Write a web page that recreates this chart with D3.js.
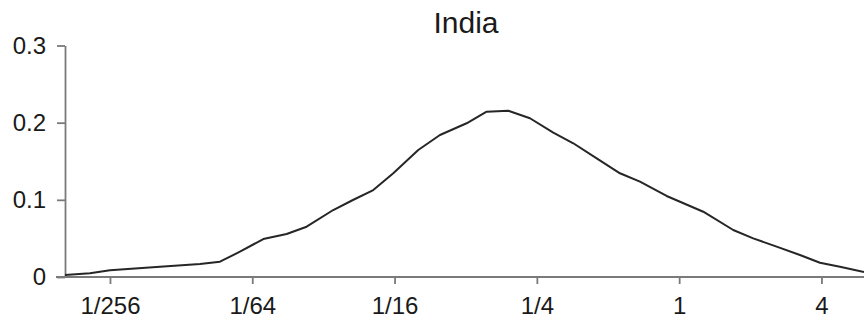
<!DOCTYPE html>
<html>
<head>
<meta charset="utf-8">
<script src="https://cdn.jsdelivr.net/npm/d3@7/dist/d3.min.js"></script>
<style>
  html, body { margin: 0; padding: 0; background: #fff; }
  svg { display: block; }
  text { font-family: "Liberation Sans", Arial, Helvetica, sans-serif; fill: #1a1a1a; }
</style>
</head>
<body>
<svg id="chart" width="864" height="323"></svg>
<script>
// Distribution over the ratio (log2 of ratio) for India
const title = "India";
const logRatio = [-8.632, -8.281, -8.0, -7.297, -6.735, -6.454, -6.173, -5.845, -5.517, -5.236,
  -4.862, -4.585, -4.299, -4.018, -3.667, -3.362, -2.987, -2.706, -2.402, -2.097,
  -1.769, -1.488, -1.159, -0.832, -0.551, -0.176, 0.339, 0.760, 1.041, 1.370,
  1.698, 1.979, 2.260, 2.598];
const density = [0.0026, 0.0048, 0.0087, 0.0133, 0.0168, 0.0198, 0.0328, 0.0492, 0.0557, 0.0652,
  0.0868, 0.0998, 0.1127, 0.1344, 0.1646, 0.1840, 0.1992, 0.2142, 0.2155, 0.2057,
  0.1870, 0.1733, 0.1538, 0.1344, 0.1235, 0.1050, 0.0846, 0.0609, 0.0501, 0.0393,
  0.0285, 0.0185, 0.0133, 0.0065];
const xTicks = [1/256, 1/64, 1/16, 1/4, 1, 4];
const xTickLabels = ["1/256", "1/64", "1/16", "1/4", "1", "4"];
const yTicks = [0, 0.1, 0.2, 0.3];
const yTickLabels = ["0", "0.1", "0.2", "0.3"];

const svg = d3.select("#chart");
const plotLeft = 65, plotRight = 864, plotTop = 45.5, plotBottom = 277;

const x = d3.scaleLog().base(2)
  .domain([Math.pow(2, -8.632), Math.pow(2, 2.598)])
  .range([plotLeft, plotRight]);
const y = d3.scaleLinear().domain([0, 0.3]).range([plotBottom, plotTop]);

const points = logRatio.map((e, i) => ({ r: Math.pow(2, e), v: density[i] }));

// x axis: baseline running from just left of the y axis to the edge
const xAxis = svg.append("g")
  .attr("transform", `translate(0,${plotBottom})`)
  .call(d3.axisBottom(x).tickValues(xTicks)
    .tickFormat((d, i) => xTickLabels[i]).tickSize(7).tickSizeOuter(0).tickPadding(13));
xAxis.select(".domain").attr("d", `M56,0H${plotRight}`);

const yAxis = svg.append("g")
  .attr("transform", `translate(${plotLeft},0)`)
  .call(d3.axisLeft(y).tickValues(yTicks)
    .tickFormat((d, i) => yTickLabels[i]).tickSize(8).tickSizeOuter(0).tickPadding(11));

[xAxis, yAxis].forEach(g => {
  g.selectAll(".domain, .tick line").attr("stroke", "#7a7a7a").attr("stroke-width", 1.8);
  g.selectAll("text").attr("font-size", 24).attr("fill", "#1a1a1a")
    .attr("font-family", '"Liberation Sans", Arial, sans-serif');
});

// curve
svg.append("path")
  .datum(points)
  .attr("fill", "none")
  .attr("stroke", "#262626")
  .attr("stroke-width", 2)
  .attr("stroke-linejoin", "round")
  .attr("d", d3.line().x(d => x(d.r)).y(d => y(d.v)));

svg.append("text")
  .attr("x", 466)
  .attr("y", 33)
  .attr("text-anchor", "middle")
  .attr("font-size", 30)
  .text(title);
</script>
</body>
</html>
